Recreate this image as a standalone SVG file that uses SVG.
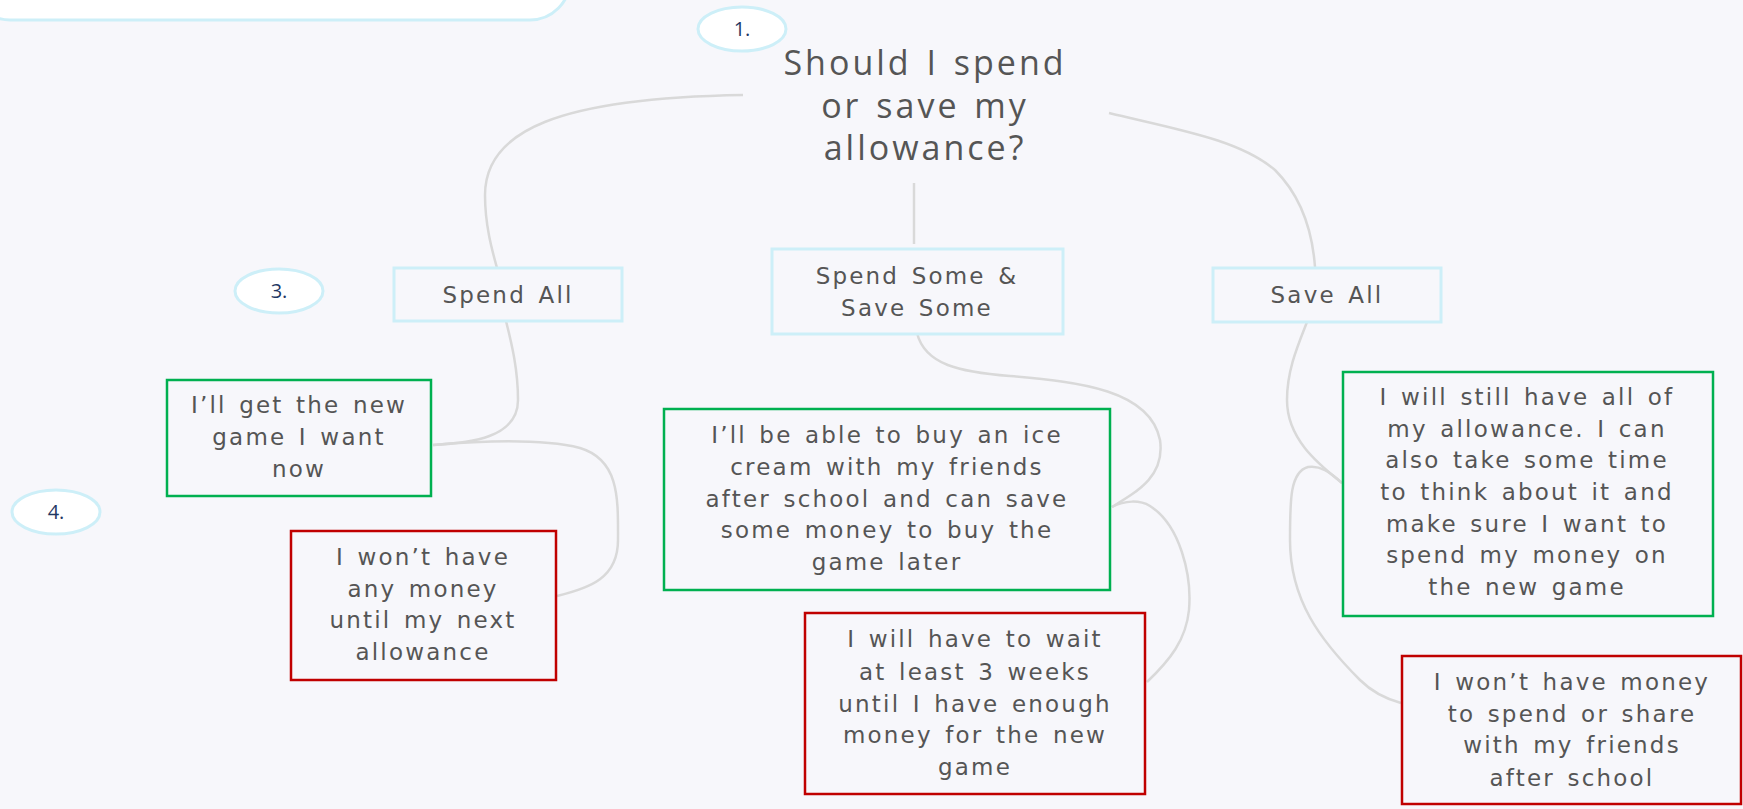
<svg xmlns="http://www.w3.org/2000/svg" width="1743" height="809" viewBox="0 0 1743 809">
<style>
.t{font-family:"DejaVu Sans","Open Sans",sans-serif;fill:#555555;text-anchor:middle;font-size:23px;letter-spacing:2.2px;word-spacing:3px}
.title{font-family:"Open Sans","Noto Sans",sans-serif;font-size:34px;letter-spacing:3px;word-spacing:3px}
.num{font-family:"Open Sans","Noto Sans",sans-serif;fill:#1f3864;text-anchor:middle;font-size:20px}
.cat{fill:#f7f7fb;stroke:#cdeff8;stroke-width:3}
.pro{fill:#f7f7fb;stroke:#00b050;stroke-width:2.5}
.con{fill:#f7f7fb;stroke:#c00000;stroke-width:2.5}
.tag{fill:#ffffff;stroke:#cdeff8;stroke-width:3}
.c{fill:none;stroke:#d9d9d9;stroke-width:2.5}
</style>
<rect width="1743" height="809" fill="#f7f7fb"/>
<g id="topbox"><rect class="tag" x="-30" y="-60" width="600" height="80" rx="40"/></g>
<g id="connectors">
<path class="c" d="M743,95 C560,98 485,130 485,195 C485,225 492,250 497,268"/>
<path class="c" d="M914,183 L914,244"/>
<path class="c" d="M1109,113 C1180,130 1240,140 1275,170 C1305,200 1313,240 1315,267"/>
<path class="c" d="M506,321 C512,345 518,370 518,400 C518,438 470,443 433,445"/>
<path class="c" d="M433,445 C480,441 540,438 580,448 C620,460 618,500 618,540 C618,578 590,588 557,596"/>
<path class="c" d="M917,333 C925,365 960,372 1010,376 C1080,382 1150,390 1160,440 C1165,475 1140,490 1112,507"/>
<path class="c" d="M1112,507 C1125,500 1140,500 1150,506 C1180,525 1192,575 1189,610 C1186,640 1170,660 1147,682"/>
<path class="c" d="M1307,322 C1298,345 1287,370 1287,400 C1287,440 1320,465 1342,483"/>
<path class="c" d="M1342,483 C1330,472 1320,465 1308,467 C1290,472 1290,500 1290,540 C1290,600 1320,640 1360,680 C1375,695 1390,700 1401,703"/>
</g>
<g id="n1"><ellipse class="tag" cx="742" cy="29" rx="44" ry="22"/><text class="num" x="742" y="36">1.</text></g>
<g id="n3"><ellipse class="tag" cx="279" cy="291" rx="44" ry="22"/><text class="num" x="279" y="298">3.</text></g>
<g id="n4"><ellipse class="tag" cx="56" cy="512" rx="44" ry="22"/><text class="num" x="56" y="519">4.</text></g>
<g id="root">
<text class="t title" x="925" y="75">Should I spend</text>
<text class="t title" x="925" y="118">or save my</text>
<text class="t title" x="925" y="160">allowance?</text>
</g>
<g id="spendAll"><rect class="cat" x="394" y="268" width="228" height="53"/><text class="t" x="508" y="303">Spend All</text></g>
<g id="spendSome"><rect class="cat" x="772" y="249" width="291" height="85"/><text class="t" x="917" y="284">Spend Some &amp;</text><text class="t" x="917" y="316">Save Some</text></g>
<g id="saveAll"><rect class="cat" x="1213" y="268" width="228" height="54"/><text class="t" x="1327" y="303">Save All</text></g>
<g id="pro1"><rect class="pro" x="167" y="380" width="264" height="116"/>
<text class="t" x="299" y="413">I’ll get the new</text><text class="t" x="299" y="445">game I want</text><text class="t" x="299" y="477">now</text></g>
<g id="con1"><rect class="con" x="291" y="531" width="265" height="149"/>
<text class="t" x="423" y="565">I won’t have</text><text class="t" x="423" y="597">any money</text><text class="t" x="423" y="628">until my next</text><text class="t" x="423" y="660">allowance</text></g>
<g id="pro2"><rect class="pro" x="664" y="409" width="446" height="181"/>
<text class="t" x="887" y="443">I’ll be able to buy an ice</text><text class="t" x="887" y="475">cream with my friends</text><text class="t" x="887" y="507">after school and can save</text><text class="t" x="887" y="538">some money to buy the</text><text class="t" x="887" y="570">game later</text></g>
<g id="con2"><rect class="con" x="805" y="613" width="340" height="181"/>
<text class="t" x="975" y="647">I will have to wait</text><text class="t" x="975" y="680">at least 3 weeks</text><text class="t" x="975" y="712">until I have enough</text><text class="t" x="975" y="743">money for the new</text><text class="t" x="975" y="775">game</text></g>
<g id="pro3"><rect class="pro" x="1343" y="372" width="370" height="244"/>
<text class="t" x="1527" y="405">I will still have all of</text><text class="t" x="1527" y="437">my allowance. I can</text><text class="t" x="1527" y="468">also take some time</text><text class="t" x="1527" y="500">to think about it and</text><text class="t" x="1527" y="532">make sure I want to</text><text class="t" x="1527" y="563">spend my money on</text><text class="t" x="1527" y="595">the new game</text></g>
<g id="con3"><rect class="con" x="1402" y="656" width="339" height="148"/>
<text class="t" x="1572" y="690">I won’t have money</text><text class="t" x="1572" y="722">to spend or share</text><text class="t" x="1572" y="753">with my friends</text><text class="t" x="1572" y="786">after school</text></g>
</svg>
